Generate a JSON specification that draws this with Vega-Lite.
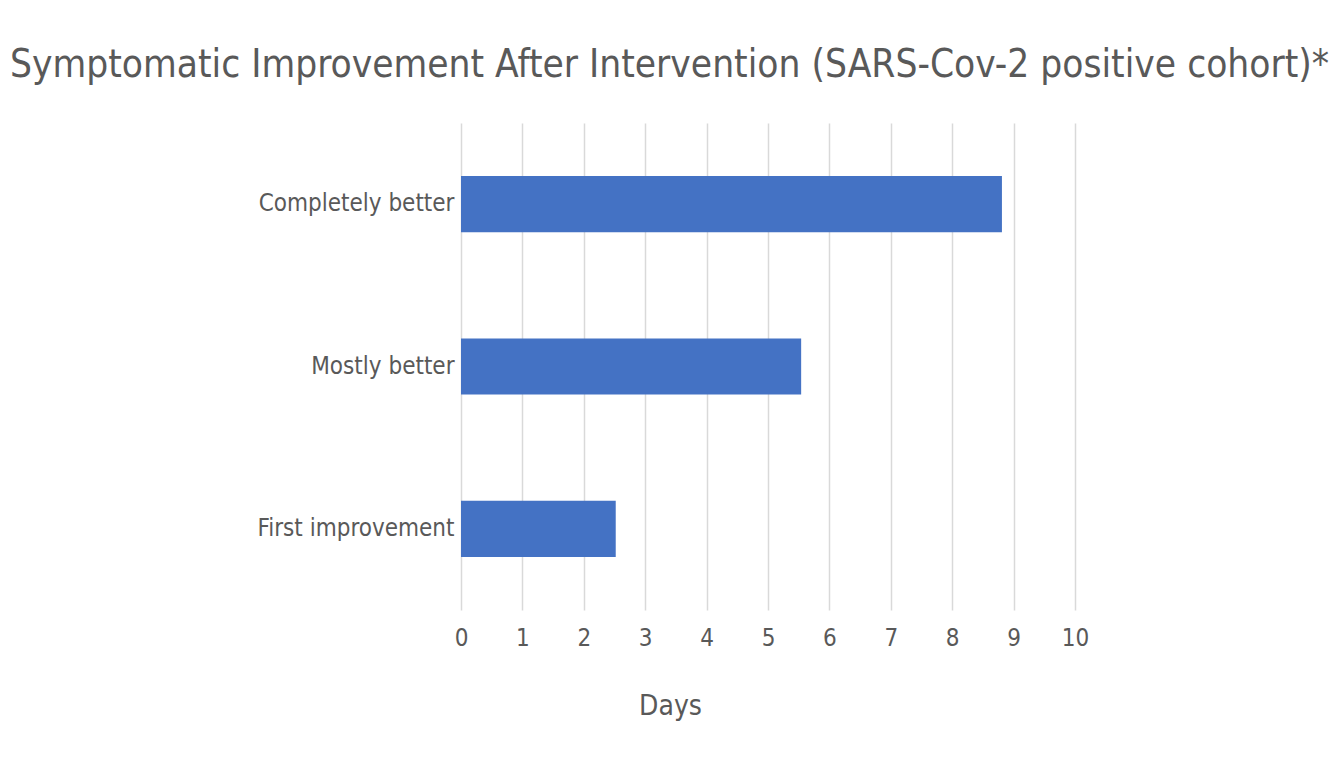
{
  "$schema": "https://vega.github.io/schema/vega-lite/v6.json",
  "width": 614,
  "height": 487,
  "padding": {"left": 461, "top": 123, "right": 268, "bottom": 152},
  "autosize": {"type": "none"},
  "background": "white",
  "title": {
    "text": "Symptomatic Improvement After Intervention (SARS-Cov-2 positive cohort)*",
    "anchor": "start",
    "frame": "group",
    "dx": -451,
    "offset": 38,
    "limit": 0,
    "font": "DejaVu Sans Condensed",
    "fontSize": 38.5,
    "fontWeight": "normal",
    "color": "#595959"
  },
  "config": {
    "view": {"stroke": null},
    "font": "DejaVu Sans Condensed"
  },
  "data": {
    "values": [
      {"stage": "Completely better", "days": 8.81},
      {"stage": "Mostly better", "days": 5.54},
      {"stage": "First improvement", "days": 2.52}
    ]
  },
  "mark": {"type": "bar", "color": "#4472C4"},
  "encoding": {
    "y": {
      "field": "stage",
      "type": "nominal",
      "sort": ["Completely better", "Mostly better", "First improvement"],
      "scale": {"paddingInner": 0.654, "paddingOuter": 0.327},
      "axis": {
        "title": null,
        "domain": false,
        "ticks": false,
        "labelPadding": 7,
        "labelLimit": 0,
        "labelFontSize": 24,
        "labelColor": "#595959",
        "labelFont": "DejaVu Sans Condensed"
      }
    },
    "x": {
      "field": "days",
      "type": "quantitative",
      "scale": {"domain": [0, 10], "nice": false},
      "axis": {
        "title": "Days",
        "values": [0, 1, 2, 3, 4, 5, 6, 7, 8, 9, 10],
        "domain": false,
        "ticks": false,
        "grid": true,
        "gridColor": "#d9d9d9",
        "gridWidth": 1.5,
        "labelFlush": false,
        "labelPadding": 16,
        "labelFontSize": 24,
        "labelColor": "#595959",
        "labelFont": "DejaVu Sans Condensed",
        "titleFontSize": 28,
        "titleFontWeight": "normal",
        "titleColor": "#595959",
        "titleFont": "DejaVu Sans Condensed",
        "titleX": 209,
        "titlePadding": 42
      }
    }
  }
}
